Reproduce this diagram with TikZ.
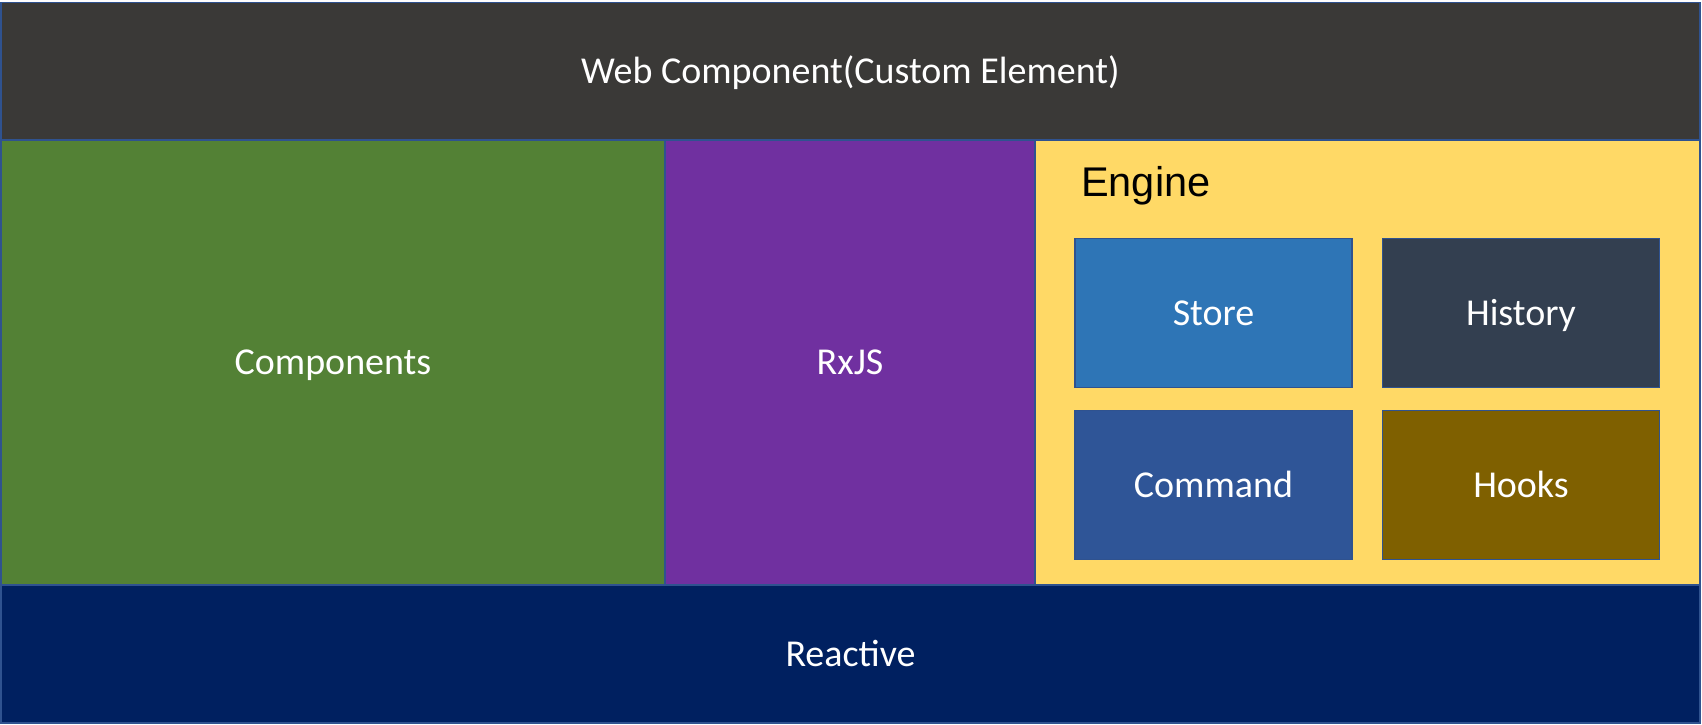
\documentclass[tikz,border=0pt]{standalone}
\usepackage{fontspec}
\setmainfont{Carlito}
\newfontfamily\enginefont{Liberation Sans}
\definecolor{edgeblue}{HTML}{2F528F}
\definecolor{webgray}{HTML}{3A3937}
\definecolor{compgreen}{HTML}{538135}
\definecolor{rxpurple}{HTML}{7030A0}
\definecolor{engyellow}{HTML}{FFD966}
\definecolor{storeblue}{HTML}{2E75B6}
\definecolor{histslate}{HTML}{333F50}
\definecolor{cmdblue}{HTML}{2F5597}
\definecolor{hookbrown}{HTML}{7F6000}
\definecolor{reactnavy}{HTML}{002060}
\tikzset{
  layer/.style={draw=edgeblue, line width=1.5pt, inner sep=0pt, text=white,
    text height=31pt, text depth=7pt, font=\fontsize{38}{42}\selectfont},
  part/.style={layer, minimum width=277pt, minimum height=149pt}
}
\begin{document}
\begin{tikzpicture}[x=1pt, y=-1pt]
      \useasboundingbox (0,0) rectangle (1702,725);

      \node [layer, fill=webgray, minimum width=1699pt, minimum height=139pt] (web) at (850.5, 72) {Web Component(Custom Element)};

      \node [layer, fill=compgreen, minimum width=664pt, minimum height=445pt] (comp) at (333, 362.5) {Components};
      \node [layer, fill=rxpurple, minimum width=370pt, minimum height=445pt] (rxjs) at (850, 362.5) {RxJS};
      \node [layer, fill=engyellow, minimum width=665pt, minimum height=445pt] (engine) at (1367.5, 362.5) {};
      \node [anchor=west, inner sep=0pt, font=\enginefont\fontsize{41.5}{46}\selectfont] (enginelabel) at (1081, 186) {Engine};

      \node [part, fill=storeblue] (store) at (1213.5, 313) {Store};
      \node [part, fill=histslate] (history) at (1521, 313) {History};
      \node [part, fill=cmdblue] (command) at (1213.5, 485) {Command};
      \node [part, fill=hookbrown] (hooks) at (1521, 485) {Hooks};

      \node [layer, fill=reactnavy, minimum width=1699pt, minimum height=138pt] (reactive) at (850.5, 654) {Reactive};
    \end{tikzpicture}
\end{document}
